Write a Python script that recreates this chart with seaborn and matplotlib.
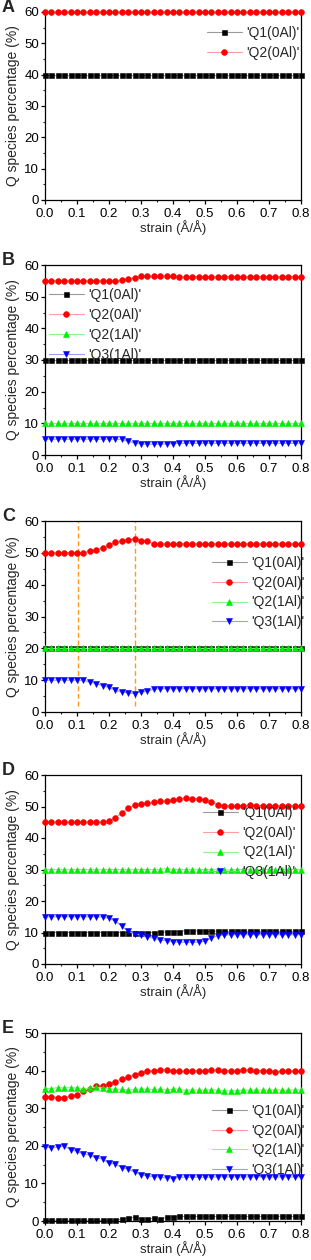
import numpy as np
import pandas as pd
import matplotlib
matplotlib.use("Agg")
import matplotlib.pyplot as plt
from matplotlib.ticker import MultipleLocator
import seaborn as sns

# ---------------- data ----------------
strain = np.linspace(0.0, 0.8, 41)
labels = ["'Q1(0Al)'", "'Q2(0Al)'", "'Q2(1Al)'", "'Q3(1Al)'"]
xticks = [0.0, 0.1, 0.2, 0.3, 0.4, 0.5, 0.6, 0.7, 0.8]
panel_letters = ["A", "B", "C", "D", "E"]
ymax = [60, 60, 60, 60, 50]
c_vlines = [0.104, 0.282]

a_q1_0 = [40.0, 40.0, 40.0, 40.0, 40.0, 40.0, 40.0, 40.0, 40.0, 40.0, 40.0, 40.0, 40.0, 40.0,
          40.0, 40.0, 40.0, 40.0, 40.0, 40.0, 40.0, 40.0, 40.0, 40.0, 40.0, 40.0, 40.0, 40.0,
          40.0, 40.0, 40.0, 40.0, 40.0, 40.0, 40.0, 40.0, 40.0, 40.0, 40.0, 40.0, 40.0]
a_q2_0 = [60.0, 60.0, 60.0, 60.0, 60.0, 60.0, 60.0, 60.0, 60.0, 60.0, 60.0, 60.0, 60.0, 60.0,
          60.0, 60.0, 60.0, 60.0, 60.0, 60.0, 60.0, 60.0, 60.0, 60.0, 60.0, 60.0, 60.0, 60.0,
          60.0, 60.0, 60.0, 60.0, 60.0, 60.0, 60.0, 60.0, 60.0, 60.0, 60.0, 60.0, 60.0]

b_q1_0 = [30.0, 30.0, 30.0, 30.0, 30.0, 30.0, 30.0, 30.0, 30.0, 30.0, 30.0, 30.0, 30.0, 30.0,
          30.0, 30.0, 30.0, 30.0, 30.0, 30.0, 30.0, 30.0, 30.0, 30.0, 30.0, 30.0, 30.0, 30.0,
          30.0, 30.0, 30.0, 30.0, 30.0, 30.0, 30.0, 30.0, 30.0, 30.0, 30.0, 30.0, 30.0]
b_q2_0 = [55.0, 55.0, 55.0, 55.0, 55.0, 55.0, 55.0, 55.0, 55.0, 55.0, 55.0, 55.0, 55.2, 55.6,
          56.0, 56.4, 56.5, 56.5, 56.5, 56.4, 56.4, 56.3, 56.3, 56.3, 56.3, 56.3, 56.3, 56.3,
          56.3, 56.3, 56.3, 56.3, 56.3, 56.3, 56.3, 56.3, 56.3, 56.3, 56.3, 56.3, 56.3]
b_q2_1 = [10.0, 10.0, 10.0, 10.0, 10.0, 10.0, 10.0, 10.0, 10.0, 10.0, 10.0, 10.0, 10.0, 10.0,
          10.0, 10.0, 10.0, 10.0, 10.0, 10.0, 10.0, 10.0, 10.0, 10.0, 10.0, 10.0, 10.0, 10.0,
          10.0, 10.0, 10.0, 10.0, 10.0, 10.0, 10.0, 10.0, 10.0, 10.0, 10.0, 10.0, 10.0]
b_q3_1 = [5.0, 5.0, 5.0, 5.0, 5.0, 5.0, 5.0, 5.0, 5.0, 5.0, 5.0, 5.0, 4.9, 4.3,
          3.8, 3.5, 3.4, 3.4, 3.4, 3.5, 3.6, 3.7, 3.7, 3.7, 3.7, 3.7, 3.7, 3.7,
          3.7, 3.7, 3.7, 3.7, 3.7, 3.7, 3.7, 3.7, 3.7, 3.7, 3.7, 3.7, 3.7]

c_q1_0 = [20.0, 20.0, 20.0, 20.0, 20.0, 20.0, 20.0, 20.0, 20.0, 20.0, 20.0, 20.0, 20.0, 20.0,
          20.0, 20.0, 20.0, 20.0, 20.0, 20.0, 20.0, 20.0, 20.0, 20.0, 20.0, 20.0, 20.0, 20.0,
          20.0, 20.0, 20.0, 20.0, 20.0, 20.0, 20.0, 20.0, 20.0, 20.0, 20.0, 20.0, 20.0]
c_q2_0 = [50.0, 50.0, 50.0, 50.0, 50.0, 50.0, 50.0, 50.6, 51.0, 51.5, 52.4, 53.4, 53.8, 54.1,
          54.3, 53.8, 53.7, 52.8, 52.8, 52.8, 52.8, 52.8, 52.8, 52.8, 52.8, 52.8, 52.8, 52.8,
          52.8, 52.8, 52.8, 52.8, 52.8, 52.8, 52.8, 52.8, 52.8, 52.8, 52.8, 52.8, 52.8]
c_q2_1 = [20.0, 20.0, 20.0, 20.0, 20.0, 20.0, 20.0, 20.0, 20.0, 20.0, 20.0, 20.0, 20.0, 20.0,
          20.0, 20.0, 20.0, 20.0, 20.0, 20.0, 20.0, 20.0, 20.0, 20.0, 20.0, 20.0, 20.0, 20.0,
          20.0, 20.0, 20.0, 20.0, 20.0, 20.0, 20.0, 20.0, 20.0, 20.0, 20.0, 20.0, 20.0]
c_q3_1 = [10.0, 10.0, 10.0, 10.0, 10.0, 10.0, 10.0, 9.4, 8.9, 8.3, 7.7, 6.8, 6.3, 6.0,
          5.8, 6.3, 6.5, 7.2, 7.3, 7.3, 7.3, 7.3, 7.3, 7.3, 7.3, 7.3, 7.3, 7.3,
          7.3, 7.3, 7.3, 7.3, 7.3, 7.3, 7.3, 7.3, 7.3, 7.3, 7.3, 7.3, 7.3]

d_q1_0 = [10.0, 10.0, 10.0, 10.0, 10.0, 10.0, 10.0, 10.0, 10.0, 10.0, 10.0, 10.0, 10.0, 10.0,
          10.0, 9.9, 10.0, 10.0, 10.1, 10.2, 10.3, 10.3, 10.6, 10.6, 10.5, 10.4, 10.4, 10.4,
          10.4, 10.4, 10.4, 10.4, 10.4, 10.4, 10.4, 10.4, 10.4, 10.4, 10.4, 10.4, 10.4]
d_q2_0 = [45.0, 45.0, 45.0, 45.0, 45.0, 45.0, 45.0, 45.0, 45.0, 45.0, 45.4, 46.4, 48.0, 49.5,
          50.4, 50.8, 51.1, 51.3, 51.6, 51.8, 52.1, 52.5, 52.6, 52.5, 52.4, 52.2, 51.4, 50.6,
          50.2, 50.2, 50.3, 50.3, 50.4, 50.3, 50.2, 50.2, 50.2, 50.2, 50.2, 50.2, 50.2]
d_q2_1 = [30.0, 30.0, 30.0, 30.0, 30.0, 30.0, 30.0, 30.0, 30.0, 30.0, 30.0, 30.0, 30.0, 30.0,
          30.0, 30.0, 30.0, 30.0, 30.0, 30.3, 30.0, 30.0, 30.0, 30.0, 30.0, 30.0, 30.0, 30.0,
          29.7, 30.0, 30.0, 30.0, 30.0, 30.0, 30.0, 30.0, 30.0, 30.0, 30.0, 30.0, 30.0]
d_q3_1 = [15.0, 15.0, 15.0, 15.0, 15.0, 15.0, 15.0, 15.0, 15.0, 14.9, 14.5, 13.6, 12.0, 10.4,
          9.6, 9.2, 8.6, 8.2, 7.6, 7.4, 7.1, 6.9, 6.9, 6.9, 6.9, 7.2, 8.2, 9.0,
          9.2, 9.3, 9.3, 9.3, 9.3, 9.3, 9.3, 9.3, 9.3, 9.3, 9.3, 9.3, 9.3]

e_q1_0 = [0.2, 0.2, 0.2, 0.2, 0.2, 0.2, 0.2, 0.2, 0.2, 0.2, 0.3, 0.3, 0.5, 0.7,
          1.0, 0.6, 0.5, 0.7, 0.5, 1.0, 1.0, 1.2, 1.2, 1.2, 1.2, 1.2, 1.2, 1.2,
          1.2, 1.2, 1.2, 1.2, 1.2, 1.2, 1.2, 1.2, 1.3, 1.2, 1.2, 1.2, 1.2]
e_q2_0 = [33.1, 33.0, 32.8, 32.8, 33.2, 33.6, 34.5, 35.1, 35.8, 35.8, 36.5, 37.1, 37.8, 38.3,
          38.8, 39.4, 39.8, 40.0, 40.1, 40.2, 39.9, 39.8, 39.8, 39.9, 40.0, 39.9, 40.1, 40.1,
          40.0, 39.9, 39.8, 40.2, 40.1, 40.0, 40.0, 39.9, 39.7, 39.8, 39.8, 39.8, 39.9]
e_q2_1 = [35.2, 35.2, 35.5, 35.4, 35.5, 35.3, 35.1, 35.4, 35.6, 35.4, 35.2, 35.0, 35.0, 34.9,
          35.0, 35.1, 35.0, 35.0, 35.1, 34.9, 35.0, 35.1, 34.7, 34.9, 34.8, 34.8, 34.9, 34.8,
          34.7, 34.6, 34.7, 34.8, 34.8, 34.9, 34.8, 34.8, 34.9, 34.8, 34.8, 34.9, 34.8]
e_q3_1 = [19.7, 19.5, 19.7, 19.9, 19.0, 18.5, 17.9, 17.5, 16.8, 16.5, 15.3, 15.2, 14.2, 13.7,
          13.1, 12.3, 12.0, 11.8, 11.6, 11.5, 11.3, 11.6, 11.7, 11.6, 11.7, 11.6, 11.7, 11.7,
          11.7, 11.7, 11.7, 11.7, 11.7, 11.7, 11.7, 11.7, 11.7, 11.7, 11.7, 11.7, 11.7]

panels = [
    [a_q1_0, a_q2_0],
    [b_q1_0, b_q2_0, b_q2_1, b_q3_1],
    [c_q1_0, c_q2_0, c_q2_1, c_q3_1],
    [d_q1_0, d_q2_0, d_q2_1, d_q3_1],
    [e_q1_0, e_q2_0, e_q2_1, e_q3_1],
]

# ---------------- style ----------------
sns.set_theme(style="ticks")
plt.rcParams["font.family"] = ["Liberation Sans", "DejaVu Sans"]
plt.rcParams["axes.linewidth"] = 0.9

full_cols = ["#000000", "#ff0000", "#00ee00", "#0000ff"]
pale_cols = ["#9a9a9a", "#ff9c9c", "#8cf58c", "#9c9cff"]
markers = ["s", "o", "^", "v"]
msizes = [3.6, 4.2, 4.2, 4.2]

fs = 10
tfs = 9.5
fig = plt.figure(figsize=(3.11, 12.6), dpi=100)

# axes boxes in figure pixels (top, bottom)
boxes = [(12, 200), (265, 455), (521, 712), (775, 964), (1033, 1221)]
leg_anchor = [(0.633, 0.925), (0.016, 0.878), (0.652, 0.818), (0.617, 0.837), (0.652, 0.624)]
W, H = 311.0, 1260.0
left_px, right_px = 45.0, 301.0

for i, (series, (top, bot)) in enumerate(zip(panels, boxes)):
    ax = fig.add_axes([left_px / W, (H - bot) / H, (right_px - left_px) / W, (bot - top) / H])
    for j, vals in enumerate(series):
        df = pd.DataFrame({"strain": strain, "value": vals})
        sns.lineplot(data=df, x="strain", y="value", ax=ax, color=pale_cols[j], lw=0.8,
                     marker=markers[j], ms=msizes[j], mfc=full_cols[j], mec=full_cols[j],
                     mew=0.4, label=labels[j], clip_on=False, zorder=3 + j)
    if i == 2:
        for xv in c_vlines:
            ax.axvline(xv, ymin=0.03, ymax=1.0, color="#ff9a1a", ls=(0, (3.5, 2)), lw=1.0, zorder=2)
    ax.set_xlim(0, 0.8)
    ax.set_ylim(0, ymax[i])
    ax.xaxis.set_major_locator(MultipleLocator(0.1))
    ax.xaxis.set_minor_locator(MultipleLocator(0.05))
    ax.yaxis.set_major_locator(MultipleLocator(10))
    ax.yaxis.set_minor_locator(MultipleLocator(5))
    ax.set_xticks(xticks)
    ax.set_xticklabels([f"{t:.1f}" for t in xticks])
    ax.tick_params(which="major", direction="out", length=2.8, width=0.9, labelsize=tfs,
                   colors="black", top=False, right=False)
    ax.tick_params(axis="x", which="major", pad=2.8)
    ax.tick_params(axis="y", which="major", pad=1.5)
    ax.tick_params(which="minor", direction="out", length=1.7, width=0.8, top=False, right=False)
    for sp in ax.spines.values():
        sp.set_visible(True)
        sp.set_color("black")
        sp.set_linewidth(0.9)
    ax.set_xlabel("strain (Å/Å)", fontsize=9.5, labelpad=0)
    ax.set_ylabel("Q species percentage (%)", fontsize=fs, labelpad=3)
    ax.set_facecolor("white")
    ax.legend(loc="upper left", bbox_to_anchor=leg_anchor[i], frameon=False, borderpad=0,
              borderaxespad=0, handlelength=2.5, handletextpad=0.3, labelspacing=0.42,
              fontsize=fs)
    ax.text(-0.168, 1.0, panel_letters[i], transform=ax.transAxes, fontsize=13,
            fontweight="bold", va="baseline", ha="left")

fig.savefig("out.png", dpi=100, facecolor="white")
